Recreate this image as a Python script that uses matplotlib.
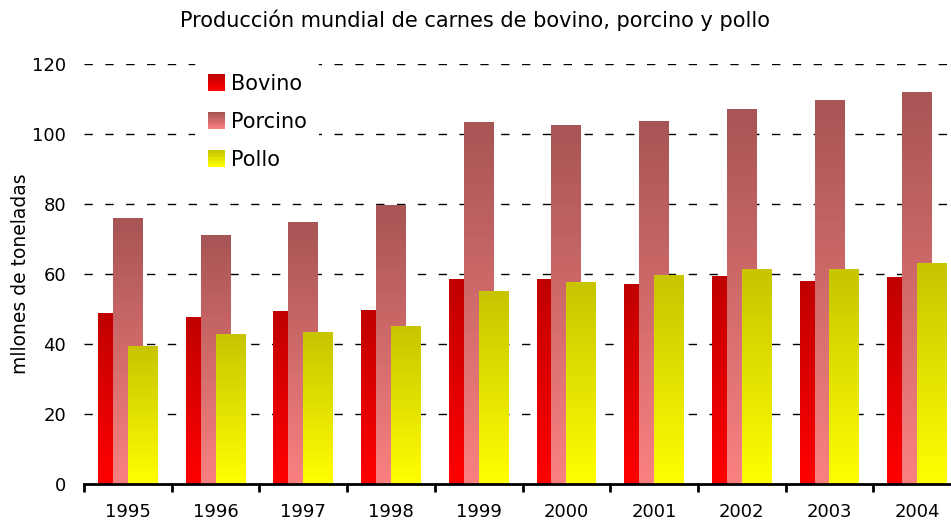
import numpy as np
import matplotlib.pyplot as plt
from matplotlib.patches import Rectangle
from matplotlib.legend_handler import HandlerBase
from matplotlib.colors import to_rgb

plt.rcParams['font.family'] = ['DejaVu Sans']

# Data (millones de toneladas)
years = ['1995', '1996', '1997', '1998', '1999', '2000', '2001', '2002', '2003', '2004']
bovino = [48.6, 47.7, 49.4, 49.7, 58.3, 58.3, 57.1, 59.4, 58.0, 59.1]
porcino = [76.0, 70.9, 74.6, 79.7, 103.4, 102.3, 103.7, 107.1, 109.7, 112.0]
pollo = [39.4, 42.6, 43.4, 45.1, 55.1, 57.7, 59.7, 61.4, 61.4, 63.1]

series = [
    ('Bovino', bovino, '#c00000', '#ff0000'),
    ('Porcino', porcino, '#a85555', '#fa8080'),
    ('Pollo', pollo, '#c8c400', '#ffff00'),
]

fig = plt.figure(figsize=(9.51, 5.27), dpi=100)
ax = fig.add_axes([84 / 951, 43 / 527, 877 / 951, 420 / 527])

x = np.arange(len(years))
width = 0.34
offsets = [-0.17, 0.0, 0.17]


def grad_img(top, bottom, n=64):
    t = np.linspace(0, 1, n)[:, None]
    c0 = np.array(to_rgb(bottom))
    c1 = np.array(to_rgb(top))
    return (c0 + (c1 - c0) * t)[:, None, :].reshape(n, 1, 3)


for (name, vals, top, bottom), off in zip(series, offsets):
    img = grad_img(top, bottom)
    for xi, v in zip(x, vals):
        x0 = xi + off - width / 2
        ax.imshow(img, extent=[x0, x0 + width, 0, v], origin='lower',
                  aspect='auto', zorder=2, interpolation='nearest')

ax.set_xlim(-0.5, len(years) - 0.5)
ax.set_ylim(0, 120)

# grid
ax.set_yticks(np.arange(0, 121, 20))
ax.yaxis.grid(True, color='black', linestyle=(0, (6, 9)), linewidth=1)
ax.set_axisbelow(True)
ax.tick_params(axis='y', length=0, labelsize=13, pad=13)

# x ticks at boundaries, labels at centers
ax.set_xticks(np.arange(len(years) + 1) - 0.5)
ax.set_xticklabels([])
ax.set_xticks(x, minor=True)
ax.set_xticklabels(years, minor=True, fontsize=13)
ax.tick_params(axis='x', which='major', length=6, width=2, direction='out')
ax.tick_params(axis='x', which='minor', length=0, pad=14)

for s in ['left', 'right', 'top']:
    ax.spines[s].set_visible(False)
ax.spines['bottom'].set_linewidth(2)

ax.set_ylabel('mllones de toneladas', fontsize=13.5, labelpad=1)
fig.text(0.5, 1 - 20 / 527, 'Producción mundial de carnes de bovino, porcino y pollo',
         ha='center', va='center', fontsize=15)


class GradientHandler(HandlerBase):
    def create_artists(self, legend, orig_handle, xdescent, ydescent, width,
                       height, fontsize, trans):
        top, bottom = orig_handle.top, orig_handle.bottom
        n = 12
        arts = []
        s = height * 1.15
        x0 = (width - s) / 2 - xdescent
        y0 = -ydescent - (s - height) / 2
        c0 = np.array(to_rgb(bottom))
        c1 = np.array(to_rgb(top))
        for i in range(n):
            c = c0 + (c1 - c0) * (i / (n - 1))
            r = Rectangle((x0, y0 + s * i / n), s, s / n + 0.3, facecolor=c,
                          edgecolor='none', transform=trans)
            arts.append(r)
        return arts


handles = []
for name, vals, top, bottom in series:
    h = Rectangle((0, 0), 1, 1)
    h.top, h.bottom = top, bottom
    handles.append(h)

leg = ax.legend(handles, [s[0] for s in series], loc='upper left',
                bbox_to_anchor=(0.115, 1.03), frameon=True, fontsize=15,
                handler_map={Rectangle: GradientHandler()},
                handlelength=0.85, handletextpad=0.25, labelspacing=0.85,
                borderpad=0.6)
leg.get_frame().set_edgecolor('none')
leg.get_frame().set_facecolor('white')
leg.get_frame().set_alpha(1)

plt.savefig('out.png', dpi=100)
